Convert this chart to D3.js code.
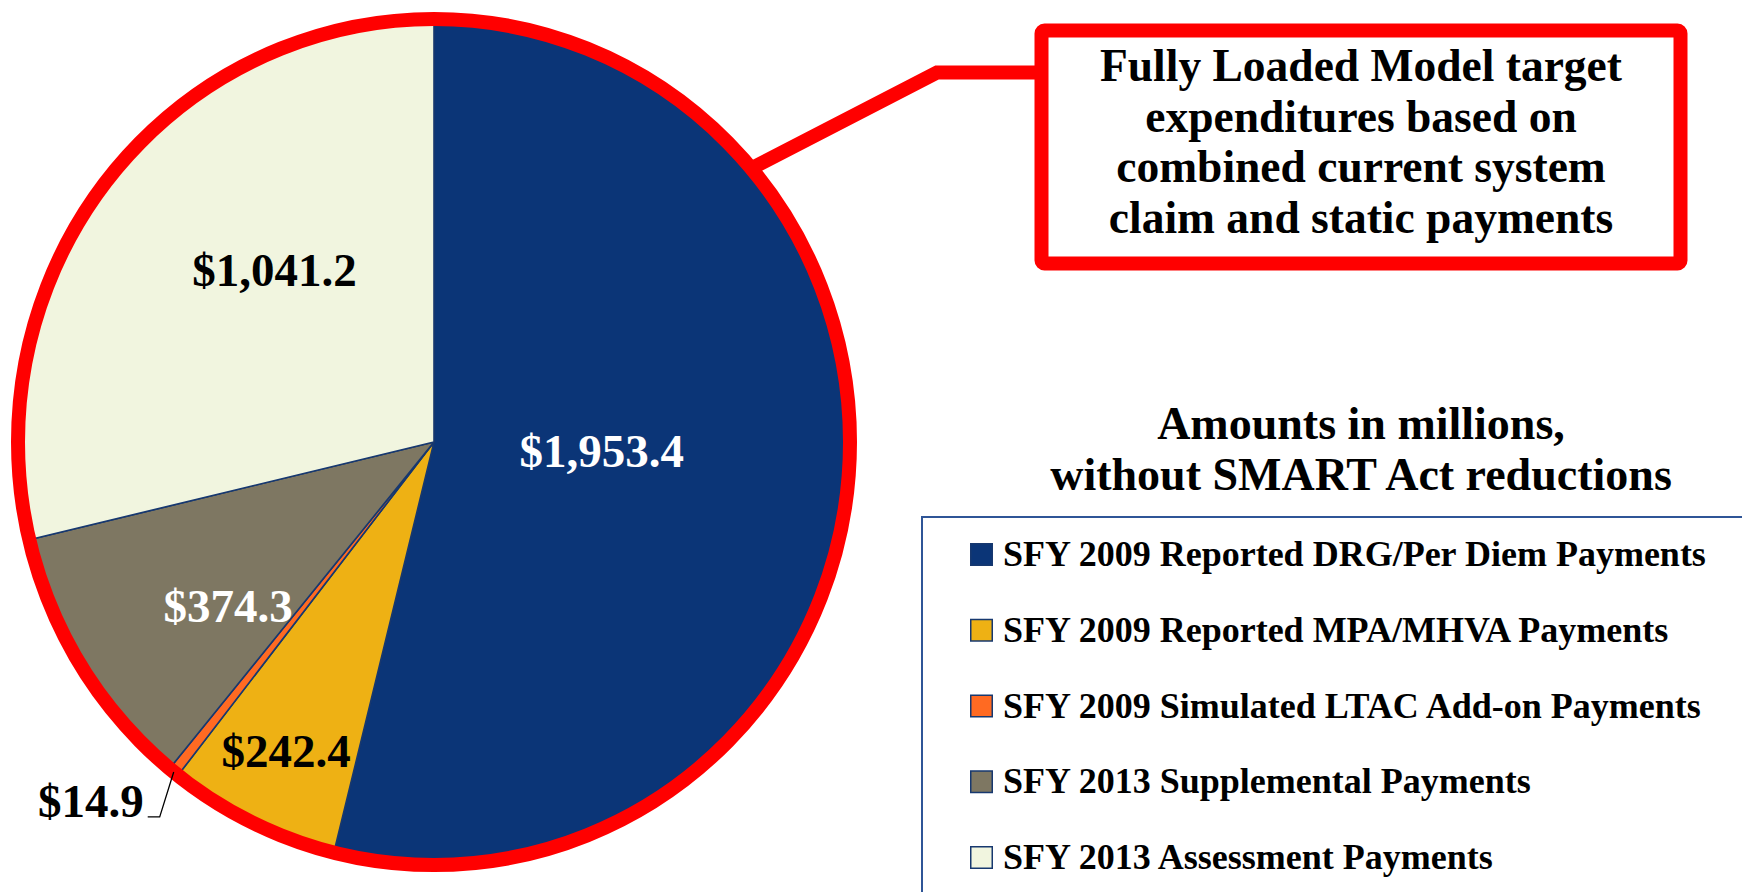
<!DOCTYPE html>
<html>
<head>
<meta charset="utf-8">
<script src="https://cdn.jsdelivr.net/npm/d3@7/dist/d3.min.js"></script>
<style>
  html, body { margin: 0; padding: 0; background: #ffffff; }
  svg { display: block; }
  text { font-family: "Liberation Serif", "Times New Roman", serif; font-weight: bold; }
</style>
</head>
<body>
<svg id="chart" width="1742" height="892"></svg>
<script>
// ---- data ----
const categories = [
  "SFY 2009 Reported DRG/Per Diem Payments",
  "SFY 2009 Reported MPA/MHVA Payments",
  "SFY 2009 Simulated LTAC Add-on Payments",
  "SFY 2013 Supplemental Payments",
  "SFY 2013 Assessment Payments"
];
const values = [1953.4, 242.4, 14.9, 374.3, 1041.2];
const valueLabels = ["$1,953.4", "$242.4", "$14.9", "$374.3", "$1,041.2"];
const colors = ["#0B3577", "#EEB114", "#FF6A22", "#7E7762", "#F1F5DF"];
const labelColors = ["#ffffff", "#000000", "#000000", "#ffffff", "#000000"];
const calloutLines = [
  "Fully Loaded Model target",
  "expenditures based on",
  "combined current system",
  "claim and static payments"
];
const legendTitleLines = ["Amounts in millions,", "without SMART Act reductions"];

// ---- layout ----
const svg = d3.select("#chart");
const cx = 434, cy = 442, R = 416, sy = 423 / 416;
const deg = Math.PI / 180;

const pie = d3.pie().sort(null).value(d => d)(values);
const arc = d3.arc().innerRadius(0).outerRadius(R);

const pieG = svg.append("g").attr("transform", `translate(${cx},${cy}) scale(1,${sy})`);
pieG.selectAll("path.slice")
  .data(pie)
  .join("path")
  .attr("class", "slice")
  .attr("d", arc)
  .attr("fill", (d, i) => colors[i])
  .attr("stroke", "#17386F")
  .attr("stroke-width", 1.6)
  .attr("stroke-linejoin", "round");

pieG.append("ellipse")
  .attr("cx", 0).attr("cy", 0)
  .attr("rx", R).attr("ry", R)
  .attr("fill", "none")
  .attr("stroke", "#FF0000")
  .attr("stroke-width", 14);

// polar helper (angle clockwise from 12 o'clock)
function polar(angle, r) {
  return [cx + r * Math.sin(angle), cy - r * Math.cos(angle) * sy];
}

// label placement: radius & angle adjustment per slice (layout only)
const labelPlace = [
  { r: 168, da: -4.2 },
  { r: 338, da: 0 },
  null,
  { r: 261, da: -6 },
  { r: 233, da: 8.5 }
];

pie.forEach((d, i) => {
  const mid = (d.startAngle + d.endAngle) / 2;
  if (labelPlace[i]) {
    const p = labelPlace[i];
    const [x, y] = polar(mid + p.da * deg, p.r);
    svg.append("text")
      .attr("x", x).attr("y", y)
      .attr("dy", "0.35em")
      .attr("text-anchor", "middle")
      .attr("font-size", 47)
      .attr("fill", labelColors[i])
      .text(valueLabels[i]);
  } else {
    // outside label with leader
    const [px, py] = polar(mid, R);
    const ex = px - 14, ey = py + 45;
    svg.append("path")
      .attr("d", `M${px},${py}L${ex},${ey}L${ex - 12},${ey}`)
      .attr("fill", "none")
      .attr("stroke", "#000")
      .attr("stroke-width", 1.3);
    svg.append("text")
      .attr("x", ex - 16).attr("y", ey)
      .attr("text-anchor", "end")
      .attr("font-size", 47)
      .attr("fill", labelColors[i])
      .text(valueLabels[i]);
  }
});

// ---- callout ----
const box = { x: 1041.5, y: 30.5, w: 639, h: 233 };
const [lx, ly] = polar(Math.atan2(325, 275), R + 2);
svg.append("path")
  .attr("d", `M${lx},${ly}L937,72.5L${box.x},72.5`)
  .attr("fill", "none")
  .attr("stroke", "#FF0000")
  .attr("stroke-width", 14)
  .attr("stroke-linejoin", "miter");

svg.append("rect")
  .attr("x", box.x).attr("y", box.y)
  .attr("width", box.w).attr("height", box.h)
  .attr("rx", 3)
  .attr("fill", "#ffffff")
  .attr("stroke", "#FF0000")
  .attr("stroke-width", 14);

svg.append("g").selectAll("text")
  .data(calloutLines)
  .join("text")
  .attr("x", box.x + box.w / 2)
  .attr("y", (d, i) => 81 + i * 50.5)
  .attr("text-anchor", "middle")
  .attr("font-size", 45.5)
  .attr("fill", "#000")
  .text(d => d);

// ---- legend ----
svg.append("g").selectAll("text")
  .data(legendTitleLines)
  .join("text")
  .attr("x", 1361)
  .attr("y", (d, i) => 439 + i * 51)
  .attr("text-anchor", "middle")
  .attr("font-size", 46)
  .attr("fill", "#000")
  .text(d => d);

svg.append("rect")
  .attr("x", 922).attr("y", 517)
  .attr("width", 900).attr("height", 500)
  .attr("fill", "none")
  .attr("stroke", "#2F5597")
  .attr("stroke-width", 2);

const yLeg = d3.scalePoint().domain(categories).range([543, 846]);
const leg = svg.append("g").selectAll("g")
  .data(categories)
  .join("g")
  .attr("transform", d => `translate(970,${yLeg(d)})`);
leg.append("rect")
  .attr("x", 0.75).attr("y", 0.75)
  .attr("width", 21.5).attr("height", 21.5)
  .attr("fill", (d, i) => colors[i])
  .attr("stroke", "#17386F")
  .attr("stroke-width", 1.5);
leg.append("text")
  .attr("x", 33).attr("y", 23)
  .attr("font-size", 36)
  .attr("fill", "#000")
  .text(d => d);
</script>
</body>
</html>
